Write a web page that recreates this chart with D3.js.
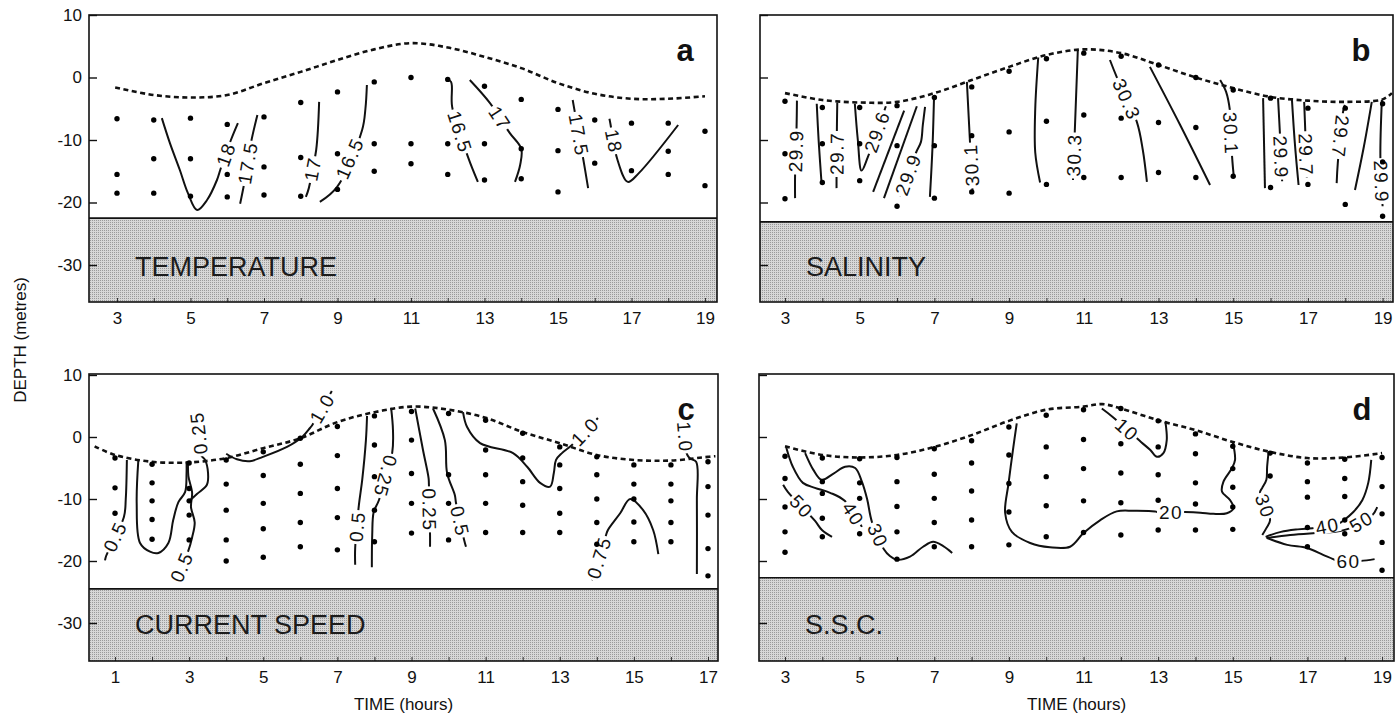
<!DOCTYPE html>
<html><head><meta charset="utf-8">
<script src="https://cdn.jsdelivr.net/npm/d3@7"></script>
<style>
body{margin:0;background:#fff;}
svg{display:block;font-family:"Liberation Sans",Arial,Helvetica,sans-serif;}
</style></head><body>
<svg id="chart" width="1396" height="722"></svg>
<script>
// ---------------- DATA ----------------
const hoursMain = [3,4,5,6,7,8,9,10,11,12,13,14,15,16,17,18,19];
const hoursMainLabels = [3,5,7,9,11,13,15,17,19];
const hoursC = [1,2,3,4,5,6,7,8,9,10,11,12,13,14,15,16,17];
const hoursCLabels = [1,3,5,7,9,11,13,15,17];
const depthTicks = [10,0,-10,-20,-30];
const panelNames = ["TEMPERATURE","SALINITY","CURRENT SPEED","S.S.C."];
const panelLetters = ["a","b","c","d"];
const seabedDepths = [-22.5,-23.1,-24.5,-22.7];

// water surface (hour, depth)
const tempSurface = [[2.95,-1.6],[4,-2.8],[5,-3.2],[6,-2.8],[7,-0.9],[8,0.9],[9,2.8],[10,4.5],[11,5.5],[12,4.8],[13,3.3],[14,1.5],[15,-0.9],[16,-2.6],[17,-3.4],[18,-3.4],[19,-3.0]];
const salSurface = [[3,-2.5],[4,-3.6],[5,-4.0],[6,-3.9],[7,-2.5],[8,-0.4],[9,1.7],[10,3.6],[11,4.5],[12,3.9],[13,2.0],[14,0.0],[15,-1.7],[16,-3.1],[17,-3.7],[18,-3.9],[19,-3.5],[19.25,-2.5]];
const speedSurface = [[0.45,-1.5],[1,-2.9],[2,-4.0],[3,-4.1],[4,-3.4],[5,-1.8],[6,-0.2],[7,2.4],[8,4.0],[9,4.9],[10,4.4],[11,3.1],[12,0.8],[13,-1.0],[14,-2.9],[15,-3.7],[16,-3.8],[17,-3.2],[17.2,-3.1]];
const sscSurface = [[3,-1.5],[4,-2.9],[5,-3.3],[6,-2.9],[7,-1.6],[8,0.3],[9,2.6],[10,4.4],[11,4.9],[11.5,5.3],[12,4.6],[13,2.7],[14,1.1],[15,-0.8],[16,-2.4],[17,-3.4],[18,-3.3],[19,-2.6]];

// sampling points (hour, depth)
const tempDots = [[3,-6.6],[3,-15.5],[3,-18.5],[4,-6.8],[4,-13],[4,-18.5],[5,-6.5],[5,-13],[5,-19],[6,-7.5],[6,-15.5],[6,-19.1],[7,-6.3],[7,-14.3],[7,-18.8],[8,-4],[8,-12.8],[8,-19],[9,-2.3],[9,-12.2],[9,-17.9],[10,-0.7],[10,-10.6],[10,-15],[11,0],[11,-10.6],[11,-13.8],[12,-0.3],[12,-10.6],[12,-15.5],[13,-1.4],[13,-10.6],[13,-16.4],[14,-3.5],[14,-11.4],[14,-16.2],[15,-5.1],[15,-11.7],[15,-18.3],[16,-6.8],[16,-13.7],[17,-7.3],[17,-14.9],[18,-7.3],[18,-11.8],[18,-15.5],[19,-8.6],[19,-17.3]];
const salDots = [[3,-3.8],[3,-12.2],[3,-19.4],[4,-4.8],[4,-10.6],[4,-16.8],[5,-4.8],[5,-10.6],[5,-16.5],[6,-4.5],[6,-10.9],[6,-20.6],[7,-3.2],[7,-10.9],[7,-19.3],[8,-1.5],[8,-9.3],[8,-18.3],[9,1],[9,-8.7],[9,-18.5],[10,3],[10,-7],[10,-17.1],[11,3.9],[11,-6],[11,-16],[12,3.4],[12,-6.5],[12,-16],[13,2],[13,-7.2],[13,-15.2],[14,0],[14,-8],[14,-16],[15,-2],[15,-15.8],[16,-3.3],[16,-17.6],[17,-4.9],[17,-17.1],[18,-4.9],[18,-20.3],[19,-4.2],[19,-13.5],[19,-22.2]];
const speedDots = [[1,-3.4],[1,-8.2],[1,-12.3],[2,-4.4],[2,-7.4],[2,-10.3],[2,-13.3],[2,-16.5],[3,-4.2],[3,-8.3],[3,-10.3],[3,-12.6],[3,-16.6],[4,-3.7],[4,-7.6],[4,-11.8],[4,-16.6],[4,-20],[5,-2.4],[5,-6.2],[5,-10.7],[5,-14.8],[5,-19.4],[6,-0.2],[6,-4.4],[6,-9.1],[6,-13.8],[6,-17.7],[7,1.7],[7,-3.0],[7,-8.3],[7,-13.0],[7,-18.2],[8,3.4],[8,-1.3],[8,-6.4],[8,-11.8],[8,-16.9],[9,4.1],[9,-0.5],[9,-5.9],[9,-10.7],[9,-15.5],[10,3.8],[10,-6.1],[10,-10.7],[10,-16.6],[11,2.7],[11,-2.1],[11,-6.1],[11,-10.7],[11,-15.4],[12,0.6],[12,-3.4],[12,-7.2],[12,-11],[12,-15.4],[13,-1.6],[13,-4.5],[13,-8.3],[13,-12.3],[13,-15.4],[14,-3.2],[14,-6.1],[14,-10],[14,-13.8],[14,-17.3],[15,-4.5],[15,-7.6],[15,-10],[15,-13.7],[15,-16.9],[16,-4.5],[16,-7.6],[16,-10.3],[16,-13.8],[16,-16.9],[17,-4.0],[17,-8.0],[17,-12.6],[17,-18],[17,-22.4]];
const sscDots = [[3,-3.1],[3,-6.7],[3,-11.3],[3,-15.3],[3,-18.6],[4,-3.4],[4,-7.2],[4,-9.1],[4,-13.1],[4,-16.1],[5,-3.5],[5,-7.4],[5,-9.9],[5,-15.6],[6,-3.3],[6,-7.2],[6,-11.2],[6,-15.3],[6,-19.7],[7,-1.9],[7,-6],[7,-9.9],[7,-13.8],[7,-17.7],[8,-0.6],[8,-4.2],[8,-8.7],[8,-13.4],[8,-17.7],[9,1.6],[9,-2.9],[9,-7.5],[9,-12.1],[9,-17.4],[10,3.5],[10,-1.6],[10,-6.4],[10,-11.1],[10,-16.1],[11,4.4],[11,-0.4],[11,-5.1],[11,-10.3],[11,-15.4],[12,4.6],[12,-1.1],[12,-5.8],[12,-10.6],[12,-15.8],[13,2.6],[13,-1.6],[13,-6.1],[13,-10.2],[13,-15],[14,0.5],[14,-2.7],[14,-7.4],[14,-10.8],[14,-15],[15,-1.5],[15,-5.1],[15,-8.1],[15,-11.3],[15,-14.9],[16,-2.6],[16,-6.3],[17,-4.2],[17,-7.2],[17,-9.7],[17,-14.6],[17,-17.7],[18,-3.6],[18,-6.7],[18,-9.6],[18,-13.4],[18,-15.6],[19,-3.3],[19,-8],[19,-12.4],[19,-17],[19,-21.5]];

// isolines: value, polyline (hour, depth), index of the segment that carries the label
const tempContours = [
 {v:"18",   at:7, pts:[[4.22,-6.5],[4.44,-10.5],[4.71,-14.8],[4.93,-18.5],[5.18,-21.2],[5.45,-19.6],[5.72,-16.4],[5.82,-14.6],[6.1,-10],[6.29,-7.3]]},
 {v:"17.5", at:1, pts:[[6.35,-20.2],[6.46,-17],[6.65,-10.3],[6.82,-6]]},
 {v:"17",   at:1, pts:[[8.14,-19.1],[8.22,-17.7],[8.42,-11.6],[8.5,-3.9]]},
 {v:"16.5", at:1, pts:[[8.52,-19.9],[8.99,-17.5],[9.67,-8.4],[9.76,-5],[9.8,-1.2]]},
 {v:"16.5", at:2, pts:[[11.95,-0.1],[12.09,-0.7],[12.12,-4.7],[12.55,-12.7],[12.82,-16.7]]},
 {v:"17",   at:1, pts:[[12.6,-0.4],[13.15,-4.1],[13.69,-8.9],[14.0,-11.4],[13.97,-14],[13.83,-16.7]]},
 {v:"17.5", at:1, pts:[[15.4,-3.6],[15.46,-5.6],[15.68,-12.8],[15.82,-17.7]]},
 {v:"18",   at:1, pts:[[16.4,-6.6],[16.42,-7.2],[16.62,-13.2],[16.9,-16.7],[17.2,-15.3],[18.27,-7.6]]}
];
const salContours = [
 {v:"29.9", at:1, pts:[[3.27,-19.3],[3.27,-15.6],[3.31,-7.9],[3.32,-3.7]]},
 {v:null,   pts:[[3.85,-4.2],[3.9,-10],[3.98,-17]]},
 {v:"29.7", at:1, pts:[[4.38,-17.7],[4.38,-16.4],[4.39,-7.9],[4.4,-4]]},
 {v:"29.6", at:3, pts:[[4.87,-4.2],[4.95,-10],[5.05,-14.9],[5.22,-12.7],[5.7,-4.6]]},
 {v:null,   pts:[[5.36,-18.3],[6.19,-5.3]]},
 {v:null,   pts:[[5.65,-19.3],[6.53,-4.6]]},
 {v:"29.9", at:0, pts:[[6.08,-19],[6.51,-12],[6.64,-10.3],[6.69,-7.6],[6.75,-4.7]]},
 {v:null,   pts:[[6.88,-19.1],[6.95,-11],[6.99,-3.1]]},
 {v:"30.1", at:0, pts:[[8.02,-18],[7.95,-10],[7.87,-0.7]]},
 {v:null,   pts:[[9.78,3.2],[9.7,-5],[9.7,-12],[9.83,-16.8]]},
 {v:"30.3", at:0, pts:[[10.71,-16.4],[10.76,-8.4],[10.84,4.4]]},
 {v:"30.3", at:1, pts:[[11.7,2.8],[11.88,0.1],[12.42,-7.1],[12.58,-11.6],[12.69,-16.7]]},
 {v:null,   pts:[[12.77,1.7],[13.58,-7.6],[14.38,-17.2]]},
 {v:"30.1", at:2, pts:[[14.65,-0.4],[14.81,-2.3],[14.91,-5.2],[14.97,-12.7],[15.02,-16.1]]},
 {v:null,   pts:[[15.8,-3.3],[15.85,-17.7]]},
 {v:"29.9", at:1, pts:[[16.2,-3.3],[16.25,-8.9],[16.31,-16.6]]},
 {v:null,   pts:[[16.57,-3.3],[16.65,-10.5],[16.75,-17.2]]},
 {v:"29.7", at:1, pts:[[16.9,-3.9],[16.93,-8.7],[16.97,-16]]},
 {v:"29.7", at:1, pts:[[17.99,-4.4],[17.95,-5.2],[17.8,-13.7],[17.77,-16.9]]},
 {v:null,   pts:[[18.71,-3.9],[18.5,-11],[18.26,-18]]},
 {v:"29.9", at:1, pts:[[18.98,-3.6],[18.94,-12.7],[19.0,-20.6]]}
];
const speedContours = [
 {v:"0.5",  at:1, pts:[[0.73,-19.9],[0.76,-19.2],[1.24,-12.9],[1.29,-10],[1.32,-3.7]]},
 {v:null,   pts:[[1.63,-3.7],[1.585,-10.7],[1.675,-17.1],[1.944,-18.5],[2.17,-18.7],[2.44,-17.1],[2.57,-13.4],[2.71,-10.5],[2.89,-8.9],[2.93,-5.9],[2.93,-4.0]]},
 {v:"0.5",  at:0, pts:[[2.62,-23.4],[2.97,-18.5],[3.08,-16.2],[3.15,-13.8],[3.05,-11.3],[3.08,-9],[2.98,-6.3],[2.97,-4.1]]},
 {v:"0.25", at:5, pts:[[2.97,-10.5],[3.21,-9.2],[3.48,-7.7],[3.51,-5.8],[3.43,-3.7],[3.32,-2.9],[3.19,4.2]]},
 {v:"1.0",  at:7, pts:[[4.0,-2.7],[4.29,-3.6],[4.64,-3.9],[4.99,-3.2],[5.64,-1.6],[6.05,0],[6.26,1.45],[6.32,1.9],[6.85,7.4]]},
 {v:"0.5",  at:1, pts:[[7.48,-20.6],[7.48,-17.9],[7.58,-11],[7.67,-6.9],[7.77,-0.5],[7.8,3.4]]},
 {v:"0.25", at:2, pts:[[8.45,4.7],[8.5,1.1],[8.48,-2.5],[8.12,-10.2],[7.98,-12.1],[7.94,-15.8],[7.93,-21]]},
 {v:"0.25", at:3, pts:[[9.1,4.6],[9.31,-2.1],[9.46,-6.6],[9.47,-7.7],[9.5,-15.8],[9.5,-17.7]]},
 {v:"0.5",  at:4, pts:[[9.58,4.6],[9.9,-0.5],[9.96,-5.8],[10.17,-9.4],[10.2,-10.6],[10.42,-16.6],[10.47,-17.7]]},
 {v:"1.0",  at:10, pts:[[10.39,4.0],[10.5,1.6],[10.85,-1.0],[11.74,-2.6],[12.12,-4.8],[12.47,-7.4],[12.74,-8.0],[12.84,-5.8],[12.9,-3.7],[13.06,-2.6],[13.33,-1.3],[14.03,3.06]]},
 {v:"1.0",  at:0, pts:[[16.35,2.4],[16.41,-2.4],[16.5,-3.4],[16.68,-4],[16.7,-10.2],[16.7,-22.1]]},
 {v:"0.75", at:0, pts:[[13.87,-23.1],[14.25,-15.8],[14.3,-15],[14.63,-12.3],[14.9,-10],[15.25,-11.8],[15.52,-15],[15.66,-18.9]]}
];
const sscContours = [
 {v:"50", at:1, pts:[[2.95,-7.7],[3.08,-8.9],[3.8,-13.5],[3.99,-15],[4.26,-16.1]]},
 {v:"40", at:5, pts:[[3.03,-1.6],[3.21,-4.8],[3.48,-7.4],[3.8,-8.2],[4.21,-9.0],[4.6,-10.3],[5.06,-14.5]]},
 {v:"30", at:8, pts:[[3.54,-2.6],[3.76,-5.3],[3.98,-6.9],[4.3,-5.9],[4.61,-4.8],[4.88,-5.0],[5.06,-7.2],[5.2,-10],[5.33,-13.7],[5.65,-18.1],[5.81,-19.2],[6.0,-19.8],[6.35,-19.3],[6.7,-17.7],[6.97,-16.9],[7.24,-17.6],[7.48,-18.7]]},
 {v:"20", at:13, pts:[[9.21,2.2],[9.12,-1.6],[8.99,-7.5],[8.9,-12.3],[9.08,-15.3],[9.57,-17.1],[10.1,-17.8],[10.64,-17.7],[11.0,-15.5],[11.45,-13.4],[11.89,-12.0],[12.34,-11.9],[12.92,-12.0],[12.97,-12.1],[13.72,-12.1],[14.13,-12.2],[14.48,-12.4],[14.84,-12.3],[15.02,-11.5],[14.93,-10.2],[14.71,-8.8],[14.75,-7.2],[14.98,-5.0],[15.06,-3.7],[15.0,-0.8]]},
 {v:"10", at:1, pts:[[11.49,4.6],[11.79,3.2],[12.54,-0.8],[12.79,-2.1],[12.97,-3.2],[13.14,-2.6],[13.23,-0.5],[13.21,1.7],[13.19,2.5]]},
 {v:"30", at:4, pts:[[15.96,-2.4],[15.92,-4.8],[15.9,-6.9],[15.79,-8.2],[15.73,-8.9],[16.0,-13.4],[15.9,-14.7],[15.79,-15.8]]},
 {v:"40", at:4, pts:[[15.88,-16.1],[16.29,-15.3],[16.74,-14.9],[17.14,-14.7],[17.24,-14.7],[17.83,-14.0],[17.96,-13.5],[18.23,-12.1],[18.47,-10.2],[18.63,-7.4],[18.71,-3.7]]},
 {v:"50", at:4, pts:[[15.9,-16.3],[16.54,-15.8],[17.21,-15.5],[17.75,-15.3],[18.15,-14.7],[18.74,-12.6],[18.87,-11.3]]},
 {v:"60", at:5, pts:[[15.92,-16.3],[16.46,-17.4],[16.99,-17.9],[17.42,-19.0],[17.76,-19.9],[17.78,-20],[18.42,-20],[18.8,-19.7]]}
];

// ---------------- DRAWING ----------------
const svg = d3.select("#chart");
const defs = svg.append("defs");
const pat = defs.append("pattern").attr("id","stip").attr("width",2).attr("height",2).attr("patternUnits","userSpaceOnUse");
pat.append("rect").attr("width",2).attr("height",2).attr("fill","#d7d7d7");
pat.append("rect").attr("width",1).attr("height",1).attr("fill","#9a9a9a");

const panels = [
 {box:[89,15,717,302],  xd:[2.238,19.327], yd:[-35.92,10],    minor:hoursMain, major:hoursMainLabels, yLab:true,  xTitle:false, surface:tempSurface,  dots:tempDots,  contours:tempContours},
 {box:[760,15,1393,302],xd:[2.331,19.278], yd:[-35.92,10],    minor:hoursMain, major:hoursMainLabels, yLab:false, xTitle:false, surface:salSurface,   dots:salDots,   contours:salContours},
 {box:[89,374,718,661], xd:[0.298,17.27],  yd:[-36.13,10.16], minor:hoursC,    major:hoursCLabels,    yLab:true,  xTitle:true,  surface:speedSurface, dots:speedDots, contours:speedContours},
 {box:[759,374,1394,661],xd:[2.303,19.32], yd:[-36.13,10.16], minor:hoursMain, major:hoursMainLabels, yLab:false, xTitle:true,  surface:sscSurface,   dots:sscDots,   contours:sscContours}
];

panels.forEach((p,i) => {
  const [L,T,R,B] = p.box;
  const x = d3.scaleLinear().domain(p.xd).range([L,R]);
  const y = d3.scaleLinear().domain(p.yd).range([B,T]);
  const g = svg.append("g");

  // seabed
  const sb = seabedDepths[i];
  g.append("rect").attr("x",L).attr("y",y(sb)).attr("width",R-L).attr("height",B-y(sb)).attr("fill","url(#stip)");
  g.append("line").attr("x1",L).attr("x2",R).attr("y1",y(sb)).attr("y2",y(sb)).attr("stroke","#111").attr("stroke-width",1.6);
  g.append("text").attr("x",L+46).attr("y",y(-31.7)).attr("font-size",27).attr("fill","#1c1c1c").text(panelNames[i]);

  // axes
  const xa = d3.axisBottom(x).tickValues(p.minor).tickSize(-4).tickPadding(10)
     .tickFormat(h => p.major.includes(h) ? String(h) : "");
  const gx = g.append("g").attr("transform",`translate(0,${B})`).call(xa);
  gx.select(".domain").remove();
  gx.selectAll("text").attr("font-size",17).attr("fill","#111").attr("font-family","Liberation Sans, Arial, sans-serif");
  gx.selectAll("line").attr("stroke","#333");

  const ya = d3.axisLeft(y).tickValues(depthTicks).tickSize(-8).tickPadding(7)
     .tickFormat(d => p.yLab ? String(d) : "");
  const gy = g.append("g").attr("transform",`translate(${L},0)`).call(ya);
  gy.select(".domain").remove();
  gy.selectAll("text").attr("font-size",17).attr("fill","#111").attr("font-family","Liberation Sans, Arial, sans-serif");
  gy.selectAll("line").attr("stroke","#111").attr("stroke-width",1.4);

  // surface
  const line = d3.line().x(d=>x(d[0])).y(d=>y(d[1])).curve(d3.curveCatmullRom.alpha(0.5));
  g.append("path").datum(p.surface).attr("d",line).attr("fill","none")
    .attr("stroke","#111").attr("stroke-width",2.6).attr("stroke-dasharray","5,3.5");

  // isolines
  p.contours.forEach(c => {
    g.append("path").datum(c.pts).attr("d",line).attr("fill","none")
      .attr("stroke","#111").attr("stroke-width",2).attr("stroke-linejoin","round");
  });
  // isoline labels (white gap behind the text)
  p.contours.filter(c => c.v !== null).forEach(c => {
    const a = c.pts[c.at], b = c.pts[c.at+1];
    const x1 = x(a[0]), y1 = y(a[1]), x2 = x(b[0]), y2 = y(b[1]);
    const ang = Math.atan2(y2-y1, x2-x1) * 180 / Math.PI;
    const lg = g.append("g").attr("transform",`translate(${(x1+x2)/2},${(y1+y2)/2}) rotate(${ang})`);
    const bg = lg.append("rect").attr("fill","#fff");
    const t = lg.append("text").attr("text-anchor","middle").attr("dy","0.36em")
      .attr("font-size",19).attr("letter-spacing","1.5px").attr("fill","#111").text(c.v);
    const w = t.node().getComputedTextLength();
    bg.attr("x",-w/2-2).attr("y",-7.5).attr("width",w+3).attr("height",15);
  });

  // sampling dots
  g.selectAll("circle.dot").data(p.dots).enter().append("circle")
    .attr("cx",d=>x(d[0])).attr("cy",d=>y(d[1])).attr("r",2.7).attr("fill","#000");

  // frame
  g.append("rect").attr("x",L).attr("y",T).attr("width",R-L).attr("height",B-T)
    .attr("fill","none").attr("stroke","#111").attr("stroke-width",1.6);

  // panel letter
  g.append("text").attr("x",R-32).attr("y",T+46).attr("text-anchor","middle")
    .attr("font-size",31).attr("font-weight","bold").attr("fill","#111").text(panelLetters[i]);

  if (p.xTitle) {
    g.append("text").attr("x",(L+R)/2).attr("y",710).attr("text-anchor","middle")
      .attr("font-size",17).attr("fill","#111").text("TIME (hours)");
  }
});

svg.append("text").attr("transform","translate(26,340) rotate(-90)").attr("text-anchor","middle")
  .attr("font-size",17).attr("fill","#111").text("DEPTH (metres)");
</script>
</body></html>
